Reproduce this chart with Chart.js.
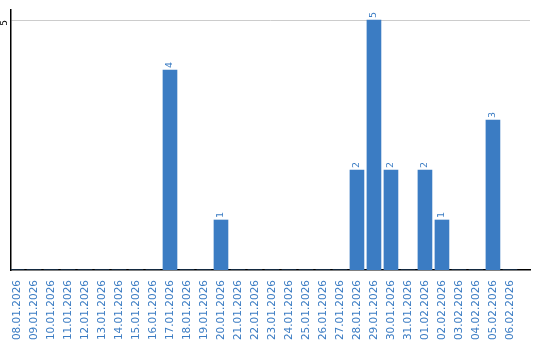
<!DOCTYPE html>
<html>
<head>
<meta charset="utf-8">
<style>
  html, body { margin: 0; padding: 0; background: #fff; }
  #wrap { width: 540px; height: 340px; }
</style>
<script src="https://cdn.jsdelivr.net/npm/chart.js@4/dist/chart.umd.min.js"></script>
</head>
<body>
<div id="wrap"><canvas id="chart" width="540" height="340"></canvas></div>
<script>
const dates = [
  "08.01.2026", "09.01.2026", "10.01.2026", "11.01.2026", "12.01.2026",
  "13.01.2026", "14.01.2026", "15.01.2026", "16.01.2026", "17.01.2026",
  "18.01.2026", "19.01.2026", "20.01.2026", "21.01.2026", "22.01.2026",
  "23.01.2026", "24.01.2026", "25.01.2026", "26.01.2026", "27.01.2026",
  "28.01.2026", "29.01.2026", "30.01.2026", "31.01.2026", "01.02.2026",
  "02.02.2026", "03.02.2026", "04.02.2026", "05.02.2026", "06.02.2026"
];
const counts = [
  0, 0, 0, 0, 0, 0, 0, 0, 0, 4,
  0, 0, 1, 0, 0, 0, 0, 0, 0, 0,
  2, 5, 2, 0, 2, 1, 0, 0, 3, 0
];
const yTicks = [5];

const blue = "#3b7cc3";
const font = "DejaVu Sans";

// value labels above bars + rotated y tick text
const labelsPlugin = {
  id: "labels",
  afterDatasetsDraw(chart) {
    const ctx = chart.ctx;
    const meta = chart.getDatasetMeta(0);
    ctx.save();
    ctx.font = "9.5px '" + font + "'";
    ctx.fillStyle = blue;
    ctx.textAlign = "left";
    ctx.textBaseline = "middle";
    meta.data.forEach((bar, i) => {
      if (!counts[i]) return;
      ctx.save();
      ctx.translate(bar.x, bar.y - 2);
      ctx.rotate(-Math.PI / 2);
      ctx.fillText(String(counts[i]), 0, 0);
      ctx.restore();
    });

    const y = chart.scales.y;
    ctx.font = "9px '" + font + "'";
    ctx.fillStyle = "#000";
    ctx.textAlign = "center";
    yTicks.forEach(v => {
      ctx.save();
      ctx.translate(y.left + 5, y.getPixelForValue(v) + 3);
      ctx.rotate(-Math.PI / 2);
      ctx.fillText(String(v), 0, 0);
      ctx.restore();
    });
    ctx.restore();
  }
};

new Chart(document.getElementById("chart"), {
  type: "bar",
  data: {
    datasets: [{
      data: counts.map((v, i) => ({ x: i, y: v })),
      backgroundColor: blue,
      barThickness: 14
    }]
  },
  options: {
    responsive: false,
    animation: false,
    layout: { padding: { top: 10, right: 10, left: 0, bottom: 0 } },
    plugins: { legend: { display: false }, tooltip: { enabled: false } },
    scales: {
      x: {
        type: "linear",
        offset: false,
        min: -0.353,
        max: 30.18,
        afterBuildTicks: s => { s.ticks = dates.map((_, i) => ({ value: i })); },
        afterFit: s => { s.height = 70; },
        grid: { display: false, offset: false },
        border: { color: "#000", width: 1.5 },
        ticks: {
          autoSkip: false,
          minRotation: 90,
          maxRotation: 90,
          padding: 2,
          color: blue,
          font: { family: font, size: 10.5 },
          callback: v => dates[v] || ""
        }
      },
      y: {
        min: 0,
        max: 5.2,
        afterBuildTicks: s => { s.ticks = yTicks.map(v => ({ value: v })); },
        afterFit: s => { s.width = 11; },
        grid: { color: "#cccccc", drawTicks: false },
        border: { color: "#000", width: 1.5 },
        ticks: { display: false }
      }
    }
  },
  plugins: [labelsPlugin]
});
</script>
</body>
</html>
